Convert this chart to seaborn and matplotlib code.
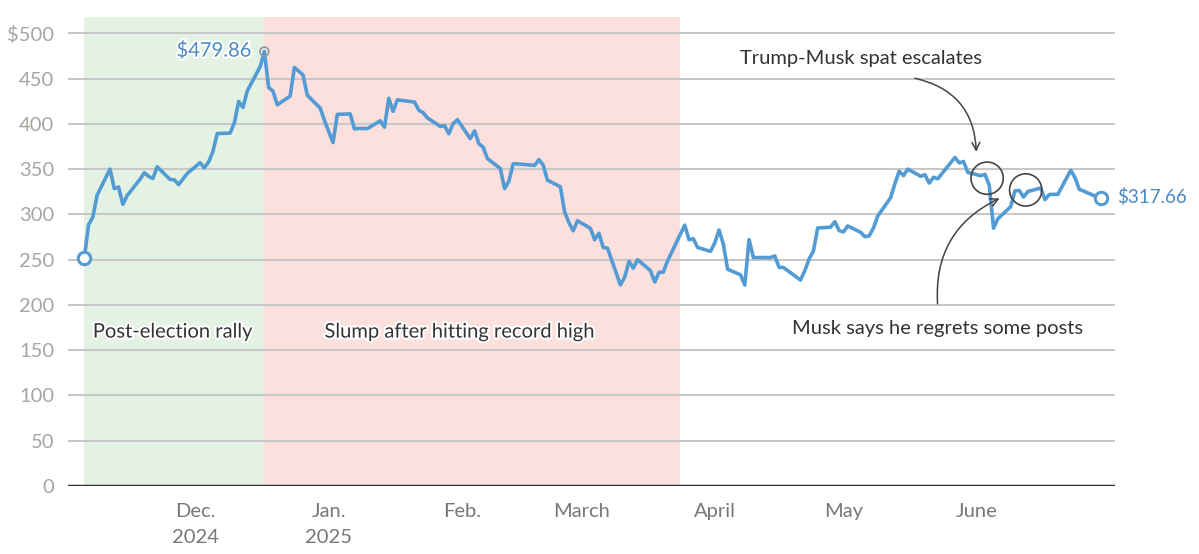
import pandas as pd
import matplotlib
matplotlib.use('Agg')
import matplotlib.pyplot as plt
import matplotlib.patheffects as pe
import seaborn as sns

# Tesla daily close, Nov 5, 2024 - June 30, 2025
dates = [
    '2024-11-05', '2024-11-06', '2024-11-07', '2024-11-08', '2024-11-11', '2024-11-12',
    '2024-11-13', '2024-11-14', '2024-11-15', '2024-11-18', '2024-11-19', '2024-11-20',
    '2024-11-21', '2024-11-22', '2024-11-25', '2024-11-26', '2024-11-27', '2024-11-29',
    '2024-12-02', '2024-12-03', '2024-12-04', '2024-12-05', '2024-12-06', '2024-12-09',
    '2024-12-10', '2024-12-11', '2024-12-12', '2024-12-13', '2024-12-16', '2024-12-17',
    '2024-12-18', '2024-12-19', '2024-12-20', '2024-12-23', '2024-12-24', '2024-12-26',
    '2024-12-27', '2024-12-30', '2024-12-31',
    '2025-01-02', '2025-01-03', '2025-01-06', '2025-01-07', '2025-01-08', '2025-01-10',
    '2025-01-13', '2025-01-14', '2025-01-15', '2025-01-16', '2025-01-17', '2025-01-21',
    '2025-01-22', '2025-01-23', '2025-01-24', '2025-01-27', '2025-01-28', '2025-01-29',
    '2025-01-30', '2025-01-31',
    '2025-02-03', '2025-02-04', '2025-02-05', '2025-02-06', '2025-02-07', '2025-02-10',
    '2025-02-11', '2025-02-12', '2025-02-13', '2025-02-14', '2025-02-18', '2025-02-19',
    '2025-02-20', '2025-02-21', '2025-02-24', '2025-02-25', '2025-02-26', '2025-02-27',
    '2025-02-28',
    '2025-03-03', '2025-03-04', '2025-03-05', '2025-03-06', '2025-03-07', '2025-03-10',
    '2025-03-11', '2025-03-12', '2025-03-13', '2025-03-14', '2025-03-17', '2025-03-18',
    '2025-03-19', '2025-03-20', '2025-03-21', '2025-03-24', '2025-03-25', '2025-03-26',
    '2025-03-27', '2025-03-28', '2025-03-31',
    '2025-04-01', '2025-04-02', '2025-04-03', '2025-04-04', '2025-04-07', '2025-04-08',
    '2025-04-09', '2025-04-10', '2025-04-11', '2025-04-14', '2025-04-15', '2025-04-16',
    '2025-04-17', '2025-04-21', '2025-04-22', '2025-04-23', '2025-04-24', '2025-04-25',
    '2025-04-28', '2025-04-29', '2025-04-30',
    '2025-05-01', '2025-05-02', '2025-05-05', '2025-05-06', '2025-05-07', '2025-05-08',
    '2025-05-09', '2025-05-12', '2025-05-13', '2025-05-14', '2025-05-15', '2025-05-16',
    '2025-05-19', '2025-05-20', '2025-05-21', '2025-05-22', '2025-05-23', '2025-05-27',
    '2025-05-28', '2025-05-29', '2025-05-30',
    '2025-06-02', '2025-06-03', '2025-06-04', '2025-06-05', '2025-06-06', '2025-06-09',
    '2025-06-10', '2025-06-11', '2025-06-12', '2025-06-13', '2025-06-16', '2025-06-17',
    '2025-06-18', '2025-06-20', '2025-06-23', '2025-06-24', '2025-06-25', '2025-06-26',
    '2025-06-27', '2025-06-30',
]
close = [
    251.44, 288.53, 296.91, 321.22, 350.00, 328.49,
    330.24, 311.18, 320.72, 338.74, 346.00, 342.03,
    339.64, 352.56, 338.59, 338.23, 332.89, 345.16,
    357.09, 351.42, 357.93, 369.49, 389.22, 389.79,
    400.99, 424.77, 418.10, 436.23, 463.02, 479.86,
    440.13, 436.17, 421.06, 430.60, 462.28, 454.13,
    431.66, 417.41, 403.84,
    379.28, 410.44, 411.05, 394.36, 394.94, 394.74,
    403.31, 396.36, 428.22, 413.82, 426.50, 424.07,
    415.11, 412.38, 406.58, 397.15, 398.09, 389.10,
    400.28, 404.60,
    383.68, 392.21, 378.17, 374.32, 361.62, 350.73,
    328.50, 336.51, 355.94, 355.84, 354.11, 360.56,
    354.40, 337.80, 330.53, 302.80, 290.80, 281.95,
    292.98,
    284.65, 272.04, 279.10, 263.45, 262.67, 222.15,
    230.58, 248.09, 240.68, 249.98, 238.01, 225.31,
    235.86, 236.26, 248.71, 278.39, 288.14, 272.06,
    273.13, 263.55, 259.16,
    268.46, 282.76, 267.28, 239.43, 233.29, 221.86,
    272.20, 252.40, 252.31, 252.35, 254.11, 241.55,
    241.37, 227.50, 237.97, 250.74, 259.51, 284.95,
    285.88, 292.03, 282.16,
    280.52, 287.21, 280.26, 275.35, 276.22, 284.82,
    298.26, 318.38, 334.07, 347.68, 342.82, 349.98,
    342.09, 343.82, 334.62, 341.04, 339.34, 362.89,
    356.90, 358.43, 346.46,
    342.69, 344.27, 332.05, 284.70, 295.14, 308.58,
    326.09, 326.43, 319.11, 325.31, 329.13, 316.35,
    322.05, 322.16, 348.68, 340.47, 327.55, 325.78,
    323.63, 317.66,
]

periods = [('2024-11-05', '2024-12-17', '#e3f2e3', 'Post-election rally', '2024-11-07'),
           ('2024-12-17', '2025-03-24', '#fbe0dd', 'Slump after hitting record high', '2024-12-31')]

month_ticks = ['2024-12-01', '2025-01-01', '2025-02-01', '2025-03-01',
               '2025-04-01', '2025-05-01', '2025-06-01']
month_labels = ['Dec.\n2024', 'Jan.\n2025', 'Feb.', 'March', 'April', 'May', 'June']
y_ticks = [0, 50, 100, 150, 200, 250, 300, 350, 400, 450, 500]

df = pd.DataFrame({'date': pd.to_datetime(dates), 'close': close})

sns.set_style('white')
plt.rcParams['font.family'] = ['Lato', 'DejaVu Sans']

blue = '#529bd4'
fs = 14.5
fig = plt.figure(figsize=(11.99, 5.54), dpi=100)
ax = fig.add_axes([0.0567, 0.1227, 0.8733, 0.8466])

for start, end, color, label, lx in periods:
    ax.axvspan(pd.Timestamp(start), pd.Timestamp(end), color=color, lw=0, zorder=0)
    ax.text(pd.Timestamp(lx), 170, label, fontsize=fs, color='#333333', va='center',
            path_effects=[pe.withStroke(linewidth=3, foreground='white')], zorder=4)

for y in y_ticks[1:]:
    ax.axhline(y, color='#c8c8c8', lw=1.5, zorder=1)
ax.axhline(0, color='#333333', lw=2.5, zorder=3)

sns.lineplot(data=df, x='date', y='close', color=blue, lw=2.6, ax=ax, zorder=3)

# end and peak markers
first, last = df.iloc[0], df.iloc[-1]
peak = df.loc[df['close'].idxmax()]
ax.scatter([first['date'], last['date']], [first['close'], last['close']], s=80,
           facecolor='white', edgecolor=blue, lw=2.2, zorder=5)
ax.scatter([peak['date']], [peak['close']], s=40, facecolor='none',
           edgecolor='#8a9aa8', lw=1.2, zorder=5)
ax.text(peak['date'] - pd.Timedelta(days=3), peak['close'] + 1, f"${peak['close']:.2f}",
        fontsize=fs, color='#4a8ac4', ha='right', va='center',
        path_effects=[pe.withStroke(linewidth=3, foreground='white')], zorder=5)
ax.text(last['date'] + pd.Timedelta(days=3.7), last['close'] + 1, f"${last['close']:.2f}",
        fontsize=13.5, color='#4a8ac4', ha='left', va='center', zorder=5)

# event annotations
events = [('2025-06-03 12:00', 340, 'Trump-Musk spat escalates', ('2025-05-05', 472),
           ('2025-05-17', 451), ('2025-06-01', 366), -0.4),
          ('2025-06-12 12:00', 327, 'Musk says he regrets some posts', ('2025-05-23', 174),
           ('2025-05-23', 198), ('2025-06-07', 319), -0.35)]
for cx, cy, txt, tpos, tail, head, rad in events:
    ax.scatter([pd.Timestamp(cx)], [cy], s=540, facecolor='none',
               edgecolor='#444444', lw=1.2, zorder=6)
    ax.text(pd.Timestamp(tpos[0]), tpos[1], txt, fontsize=fs, color='#333333',
            ha='center', va='center', zorder=6)
    ax.annotate('', xy=(pd.Timestamp(head[0]), head[1]),
                xytext=(pd.Timestamp(tail[0]), tail[1]),
                arrowprops=dict(arrowstyle='->', color='#444444', lw=1.1,
                                connectionstyle=f'arc3,rad={rad}',
                                mutation_scale=14), zorder=6)

ax.set_xlim(pd.Timestamp('2024-11-01 05:00'), pd.Timestamp('2025-07-03 08:00'))
ax.set_ylim(0, 518)
ax.set_xticks(pd.to_datetime(month_ticks))
ax.set_xticklabels(month_labels, fontsize=fs, color='#777777', linespacing=1.7)
ax.set_yticks(y_ticks)
ax.set_yticklabels(['$500' if v == 500 else str(v) for v in y_ticks],
                   fontsize=fs, color='#a8a4a0')
ax.tick_params(axis='both', length=0)
ax.tick_params(axis='x', pad=12)
ax.tick_params(axis='y', pad=10)
ax.set_xlabel('')
ax.set_ylabel('')
sns.despine(ax=ax, left=True, bottom=True, top=True, right=True)

fig.savefig('out.png', dpi=100)
